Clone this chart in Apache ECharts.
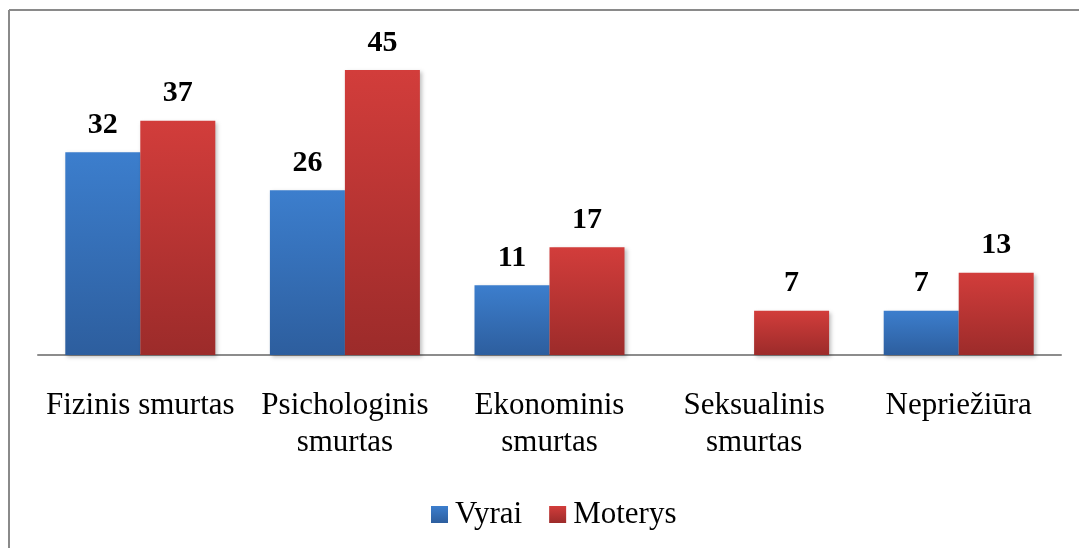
<!DOCTYPE html>
<html>
<head>
<meta charset="utf-8">
<script src="https://cdn.jsdelivr.net/npm/echarts@6/dist/echarts.min.js"></script>
<style>
html,body{margin:0;padding:0;background:#fff;}
#chart{width:1079px;height:548px;}
</style>
</head>
<body>
<div id="chart"></div>
<script>
const categories = ['Fizinis smurtas', 'Psichologinis smurtas', 'Ekonominis smurtas', 'Seksualinis smurtas', 'Nepriežiūra'];
const categoryLabels = ['Fizinis smurtas', 'Psichologinis\nsmurtas', 'Ekonominis\nsmurtas', 'Seksualinis\nsmurtas', 'Nepriežiūra'];
const seriesNames = ['Vyrai', 'Moterys'];
const vyrai = [32, 26, 11, 0, 7];
const moterys = [37, 45, 17, 7, 13];

const chart = echarts.init(document.getElementById('chart'), null, {renderer: 'canvas'});
const serif = '"Liberation Serif", "Times New Roman", serif';

function grad(top, bottom) {
  return new echarts.graphic.LinearGradient(0, 0, 0, 1, [
    {offset: 0, color: top}, {offset: 1, color: bottom}
  ]);
}
const labelStyle = {
  show: true, position: 'top', distance: 12,
  fontFamily: serif, fontWeight: 'bold', fontSize: 30, color: '#000',
  formatter: p => (p.value ? String(p.value) : '')
};
const itemShadow = {shadowBlur: 4, shadowOffsetX: 2, shadowOffsetY: 2, shadowColor: 'rgba(0,0,0,0.25)'};

chart.setOption({
  animation: false,
  backgroundColor: '#fff',
  graphic: [
    {type: 'line', shape: {x1: 9, y1: 10, x2: 1079, y2: 10}, style: {stroke: '#8a8a8a', lineWidth: 2}, silent: true},
    {type: 'line', shape: {x1: 9, y1: 10, x2: 9, y2: 548}, style: {stroke: '#8a8a8a', lineWidth: 2}, silent: true}
  ],
  grid: {left: 38, right: 18, top: 70, bottom: 193, containLabel: false},
  legend: {
    data: seriesNames,
    bottom: 13,
    left: 426,
    icon: 'rect',
    itemWidth: 17, itemHeight: 17, itemGap: 27,
    textStyle: {fontFamily: serif, fontSize: 31, color: '#000', padding: [0, 0, 0, 2]}
  },
  xAxis: {
    type: 'category',
    data: categories,
    axisLine: {lineStyle: {color: '#8c8c8c', width: 2}},
    axisTick: {show: false},
    axisLabel: {
      fontFamily: serif, fontSize: 31, color: '#000', lineHeight: 37, margin: 32,
      interval: 0,
      formatter: (v, i) => categoryLabels[i]
    }
  },
  yAxis: {
    type: 'value', min: 0, max: 45,
    show: false,
    splitLine: {show: false}
  },
  series: [
    {
      name: seriesNames[0], type: 'bar',
      data: vyrai.map(v => (v === 0 ? null : v)),
      barWidth: 75, barGap: '0%',
      itemStyle: Object.assign({color: grad('#3c7ecd', '#2d5e9e')}, itemShadow),
      label: labelStyle
    },
    {
      name: seriesNames[1], type: 'bar',
      data: moterys,
      barWidth: 75, barGap: '0%',
      itemStyle: Object.assign({color: grad('#d23d3b', '#9c2b2a')}, itemShadow),
      label: labelStyle
    }
  ]
});
</script>
</body>
</html>
